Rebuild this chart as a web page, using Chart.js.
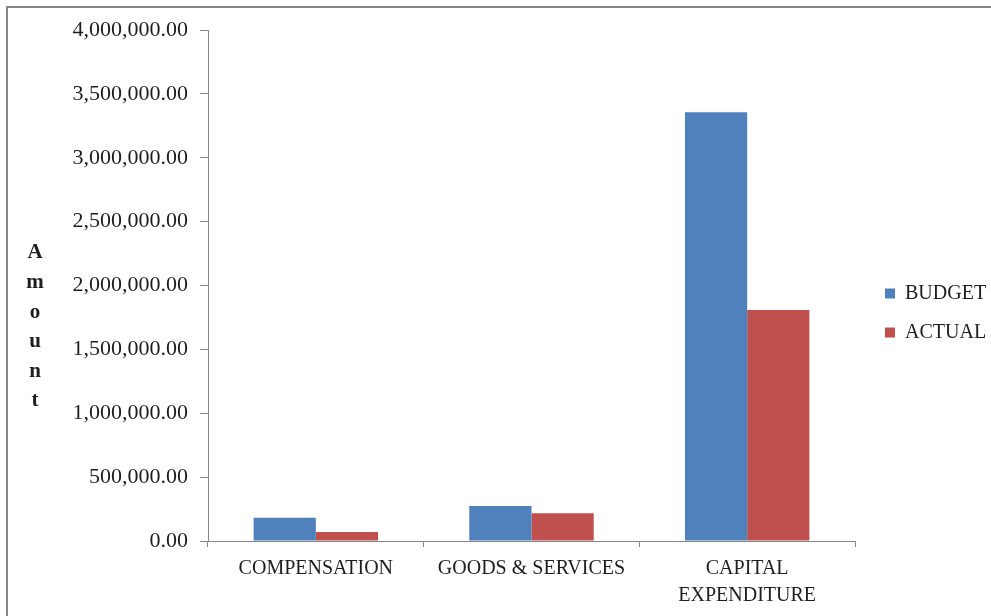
<!DOCTYPE html>
<html>
<head>
<meta charset="utf-8">
<script src="https://cdn.jsdelivr.net/npm/chart.js@4.4.1/dist/chart.umd.min.js"></script>
<style>
  html, body { margin: 0; padding: 0; background: #ffffff; }
  #wrap { position: relative; width: 991px; height: 616px; overflow: hidden; }
  #frame { position: absolute; left: 6px; top: 6px; right: -10px; bottom: -10px;
           border-left: 2px solid #878787; border-top: 2px solid #878787; pointer-events: none; }
  canvas { position: absolute; left: 0; top: 0; }
</style>
</head>
<body>
<div id="wrap">
  <canvas id="c" width="991" height="616"></canvas>
  <div id="frame"></div>
</div>
<script>
const categories = [["COMPENSATION"], ["GOODS & SERVICES"], ["CAPITAL", "EXPENDITURE"]];
const budgetValues = [182000, 274000, 3356000];
const actualValues = [70000, 217000, 1808000];
const yTickValues = [0, 500000, 1000000, 1500000, 2000000, 2500000, 3000000, 3500000, 4000000];
const yTickLabels = ["0.00", "500,000.00", "1,000,000.00", "1,500,000.00", "2,000,000.00",
                     "2,500,000.00", "3,000,000.00", "3,500,000.00", "4,000,000.00"];
const yTitleLetters = ["A", "m", "o", "u", "n", "t"];

const axisGray = "#868686";
const textColor = "#1e1e1e";
const serif = "'Liberation Serif', 'DejaVu Serif', serif";

const yTitlePlugin = {
  id: "yTitleStack",
  afterDraw(chart) {
    const ctx = chart.ctx;
    ctx.save();
    ctx.fillStyle = textColor;
    ctx.font = "bold 21px " + serif;
    ctx.textAlign = "center";
    ctx.textBaseline = "middle";
    yTitleLetters.forEach((ch, i) => {
      ctx.fillText(ch, 35, 253 + i * 29.6);
    });
    ctx.restore();
  }
};

const legendPlacePlugin = {
  id: "legendPlace",
  afterLayout(chart) {
    const lg = chart.legend;
    if (!lg) return;
    lg.left = 866; lg.right = 991;
    lg.top = 10; lg.bottom = 616;
  }
};

new Chart(document.getElementById("c"), {
  type: "bar",
  data: {
    labels: categories,
    datasets: [
      { label: "BUDGET", data: budgetValues, backgroundColor: "#4F81BD", borderWidth: 0 },
      { label: "ACTUAL", data: actualValues, backgroundColor: "#C0504D", borderWidth: 0 }
    ]
  },
  options: {
    responsive: false,
    animation: false,
    devicePixelRatio: 1,
    layout: { padding: { top: 30, right: 36, bottom: 0, left: 0 } },
    datasets: { bar: { barPercentage: 1.0, categoryPercentage: 0.577 } },
    plugins: {
      tooltip: { enabled: false },
      title: { display: false },
      legend: {
        position: "right",
        maxWidth: 100,
        labels: {
          boxWidth: 10, boxHeight: 10, padding: 19,
          color: textColor,
          font: { family: serif, size: 20 }
        }
      }
    },
    scales: {
      x: {
        grid: { display: true, drawOnChartArea: false, drawTicks: true, tickLength: 6, color: axisGray, offset: true },
        border: { display: true, color: axisGray, width: 1 },
        ticks: { color: textColor, padding: 8, maxRotation: 0, autoSkip: false,
                 font: { family: serif, size: 20, lineHeight: 1.35 } },
        afterFit(scale) { scale.height = 75; }
      },
      y: {
        min: 0, max: 4000000,
        afterBuildTicks(scale) { scale.ticks = yTickValues.map(v => ({ value: v })); },
        grid: { display: true, drawOnChartArea: false, drawTicks: true, tickLength: 8, color: axisGray },
        border: { display: true, color: axisGray, width: 1 },
        ticks: {
          color: textColor, padding: 12,
          font: { family: serif, size: 22 },
          callback(value, index) { return yTickLabels[index]; }
        },
        afterFit(scale) { scale.width = 208; }
      }
    }
  },
  plugins: [yTitlePlugin, legendPlacePlugin]
});
</script>
</body>
</html>
